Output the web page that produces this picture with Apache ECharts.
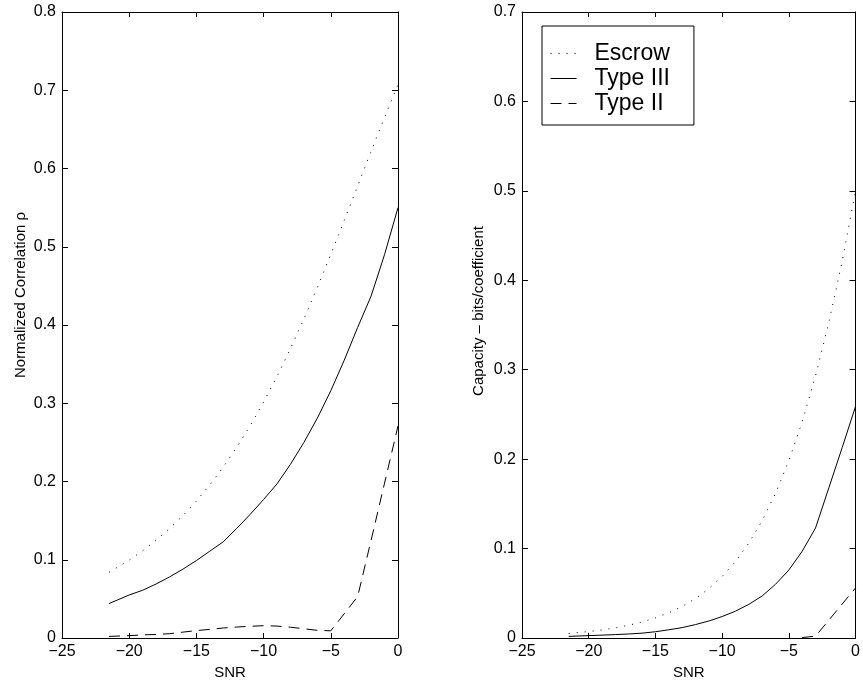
<!DOCTYPE html>
<html>
<head>
<meta charset="utf-8">
<script src="https://cdn.jsdelivr.net/npm/echarts@6/dist/echarts.min.js"></script>
<style>
html,body{margin:0;padding:0;background:#fff;}
#chart{width:863px;height:688px;}
</style>
</head>
<body>
<div id="chart"></div>
<script>
// ---- data ----
var snr = [-21.5,-20,-19,-18,-17,-16,-15,-14,-13,-12,-11,-10,-9,-8,-7,-6,-5,-4,-3,-2,-1,0];
var escrowRho = [0.0839,0.0995,0.1115,0.1249,0.1399,0.1565,0.1751,0.1957,0.2185,0.2436,0.2713,0.3015,0.3344,0.3699,0.4078,0.4481,0.4902,0.5336,0.5778,0.6220,0.6653,0.7071];
var type3Rho = [0.044,0.055,0.061,0.069,0.078,0.088,0.099,0.111,0.123,0.140,0.158,0.177,0.197,0.222,0.250,0.281,0.316,0.355,0.397,0.437,0.490,0.550];
var type2Rho = [0.002,0.003,0.004,0.0045,0.0055,0.0075,0.0095,0.011,0.0128,0.014,0.015,0.0157,0.0152,0.0138,0.0118,0.0098,0.0092,0.031,0.053,0.125,0.198,0.271];
var escrowCap = [0.0051,0.0072,0.0090,0.0113,0.0143,0.0179,0.0225,0.0282,0.0353,0.0441,0.0551,0.0688,0.0855,0.1061,0.1312,0.1617,0.1982,0.2417,0.2931,0.3529,0.4217,0.5];
var type3Cap = [0.0018,0.0027,0.0032,0.0038,0.0045,0.0054,0.0070,0.0092,0.0116,0.015,0.019,0.024,0.030,0.0376,0.047,0.060,0.076,0.097,0.123,0.168,0.213,0.259];
var snrType2Cap = [-4,-3,-2,-1,0];
var type2Cap = [0.0005,0.002,0.020,0.038,0.056];
var seriesNames = ['Escrow','Type III','Type II'];
var xTitle = 'SNR';
var yTitleLeft = 'Normalized Correlation \u03c1';
var yTitleRight = 'Capacity \u2013 bits/coefficient';

function pairs(xs, ys){ return xs.map(function(x,i){ return [x, ys[i]]; }); }

var FONT = 'Liberation Sans, Arial, Helvetica, sans-serif';
var fmtX = function(v){ return String(v).replace('-', '\u2212'); };

function xAx(grid, bottom){
  return {
    type:'value', gridIndex:grid, min:-25, max:0, interval:5,
    position: bottom ? 'bottom' : 'top',
    name: bottom ? xTitle : '', nameLocation:'middle', nameGap:23,
    nameTextStyle:{fontFamily:FONT, fontSize:15, color:'#000'},
    axisLine:{show:true, onZero:false, lineStyle:{color:'#000', width:1}},
    axisTick:{show:true, inside:true, length:5, lineStyle:{color:'#000'}},
    axisLabel:{show:bottom, fontFamily:FONT, fontSize:16, color:'#000', margin:6, formatter:fmtX},
    splitLine:{show:false}
  };
}
function yAx(grid, left, max, title, gap, shift){
  return {
    type:'value', gridIndex:grid, min:0, max:max, interval:0.1,
    position: left ? 'left' : 'right',
    name: left ? title : '', nameLocation:'middle', nameGap:gap,
    nameTextStyle:{fontFamily:FONT, fontSize:15, color:'#000', padding:[0,0,0,shift||0]},
    axisLine:{show:true, onZero:false, lineStyle:{color:'#000', width:1}},
    axisTick:{show:true, inside:true, length:6, lineStyle:{color:'#000'}},
    axisLabel:{show:left, fontFamily:FONT, fontSize:16, color:'#000', margin:6,
      formatter:function(v){ return v===0 ? '0' : v.toFixed(1); }},
    splitLine:{show:false}
  };
}
function line(name, data, xi, yi, type){
  return {
    name:name, type:'line', data:data, xAxisIndex:xi, yAxisIndex:yi,
    symbol:'none', showSymbol:false, smooth:false, silent:true,
    lineStyle:{color:'#000', width:1, type:type},
    itemStyle:{color:'#000'}
  };
}
var DOT = [1,7], DASH = [11,7];

var chart = echarts.init(document.getElementById('chart'), null, {renderer:'canvas'});
chart.setOption({
  animation:false,
  backgroundColor:'#fff',
  grid:[
    {left:62, right:465, top:12, bottom:50},
    {left:522, right:5, top:12, bottom:50}
  ],
  xAxis:[xAx(0,true), xAx(0,false), xAx(1,true), xAx(1,false)],
  yAxis:[yAx(0,true,0.8,yTitleLeft,34,60), yAx(0,false,0.8,'',0), yAx(1,true,0.7,yTitleRight,36,28), yAx(1,false,0.7,'',0)],
  legend:{
    data:seriesNames, orient:'vertical', left:542, top:26,
    backgroundColor:'#fff', borderColor:'#000', borderWidth:1, borderRadius:0,
    padding:[15,24,9,8], itemGap:0, itemWidth:26, itemHeight:14,
    selectedMode:false,
    itemStyle:{opacity:0, color:'rgba(0,0,0,0)', borderWidth:0},
    lineStyle:{width:1, color:'#000'},
    textStyle:{fontFamily:FONT, fontSize:23, color:'#000', lineHeight:25, padding:[0,0,0,13]}
  },
  series:[
    line('Escrow', pairs(snr, escrowRho), 0, 0, DOT),
    line('Type III', pairs(snr, type3Rho), 0, 0, 'solid'),
    line('Type II', pairs(snr, type2Rho), 0, 0, DASH),
    line('Escrow', pairs(snr, escrowCap), 2, 2, DOT),
    line('Type III', pairs(snr, type3Cap), 2, 2, 'solid'),
    line('Type II', pairs(snrType2Cap, type2Cap), 2, 2, DASH)
  ]
});
</script>
</body>
</html>
